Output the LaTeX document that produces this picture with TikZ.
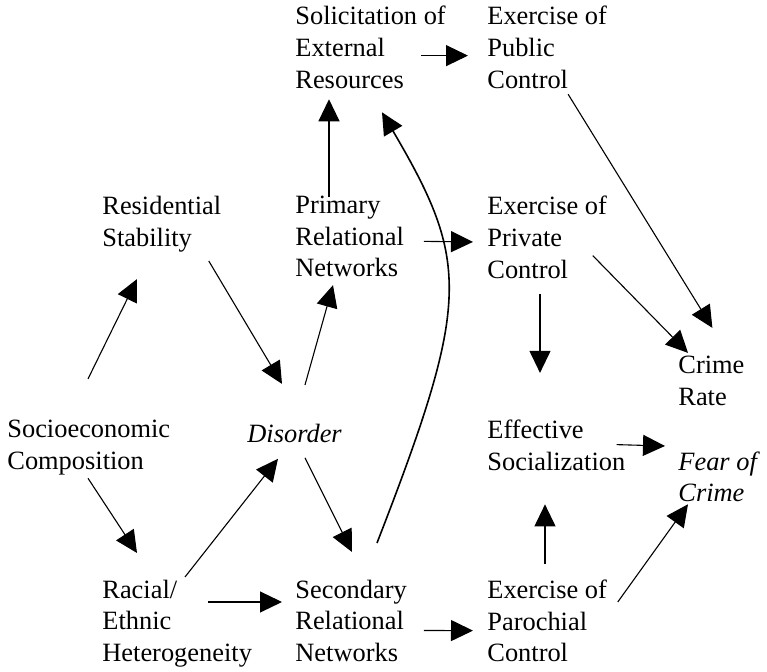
\documentclass[tikz,border=0pt]{standalone}
\usepackage{fontspec}
\setmainfont{Liberation Serif}
\usetikzlibrary{arrows.meta,calc}
\tikzset{
  factor/.style  = {anchor=north west, inner sep=0pt, align=left,
                    font=\fontsize{13.2}{15.8}\selectfont,
                    execute at begin node=\strut, execute at end node=\strut},
  effect/.style  = {-{Triangle[length=11pt,width=10.5pt]}, line width=0.55pt},
  effectc/.style = {-{Triangle[length=11pt,width=10.5pt]}, line width=0.8pt},
}
\begin{document}
\begin{tikzpicture}[x=0.5pt, y=-0.5pt]
  \useasboundingbox (0,0) rectangle (767,672);
  \node[factor] (sol)   at (295,5.9)   {Solicitation of\\External\\Resources};
  \node[factor] (pub)   at (487,5.9)   {Exercise of\\Public\\Control};
  \node[factor] (res)   at (102,195.9) {Residential\\Stability};
  \node[factor] (pri)   at (295,195.9) {Primary\\Relational\\Networks};
  \node[factor] (prv)   at (487,195.9) {Exercise of\\Private\\Control};
  \node[factor] (crime) at (678,355.9) {Crime\\Rate};
  \node[factor] (soc)   at (7,419.9)   {Socioeconomic\\Composition};
  \node[factor] (dis)   at (247,419.9) {\textit{Disorder}};
  \node[factor] (eff)   at (487,419.9) {Effective\\Socialization};
  \node[factor] (fear)  at (678,451.4) {\textit{Fear of}\\\textit{Crime}};
  \node[factor] (rac)   at (102,579.6) {Racial/\\Ethnic\\Heterogeneity};
  \node[factor] (sec)   at (295,579.6) {Secondary\\Relational\\Networks};
  \node[factor] (par)   at (487,579.6) {Exercise of\\Parochial\\Control};
  % top row
  \draw[effect] ($(sol.east)+(-25,3.7)$) -- ($(pub.west)+(-19,3.7)$);
  \draw[effect] ($(pub.south)+(21,-3.7)$) -- ($(crime.north)+(1,-28)$);
  \draw[effect] ($(pri.north west)+(34,1)$) -- ($(sol.south west)+(34,1.3)$);
  % middle
  \draw[effect] ($(pri.east)+(19.5,0)$) -- ($(prv.west)+(-14,0)$);
  \draw[effect] ($(prv.east)+(-14.5,13.7)$) -- ($(crime.north west)+(10,-3)$);
  \draw[effect] ($(prv.south west)+(53,6.3)$) -- ($(eff.north west)+(53,-47)$);
  \draw[effect] ($(res.south east)+(-12.8,4.9)$) -- ($(dis.north west)+(35,-36)$);
  \draw[effect] ($(dis.north west)+(58,-35)$) -- ($(pri.south west)+(38,-1.7)$);
  \draw[effect] ($(soc.north west)+(81,-41)$) -- ($(res.south west)+(35,23)$);
  \draw[effect] ($(soc.south west)+(81,-1)$) -- ($(rac.north west)+(35,-26.6)$);
  \draw[effect] ($(rac.north west)+(83,-2.6)$) -- ($(dis.south west)+(31,6.5)$);
  \draw[effect] ($(dis.south west)+(58,5.5)$) -- ($(sec.north west)+(57,-27.6)$);
  \draw[effect] ($(eff.east)+(-9,-5.5)$) -- ($(fear.north west)+(-13,-5.4)$);
  % bottom row
  \draw[effect] ($(rac.north west)+(106,22.4)$) -- ($(sec.north west)+(-13,22.4)$);
  \draw[effect] ($(sec.east)+(16.6,5)$) -- ($(par.west)+(-14,5)$);
  \draw[effect] ($(par.north west)+(58,-15.6)$) -- ($(eff.south west)+(58,24)$);
  \draw[effect] ($(par.north east)+(10.5,22.4)$) -- ($(fear.south west)+(10,-7.6)$);
  \draw[effectc] ($(sec.north west)+(82,-36.6)$) .. controls +(94,-242) and +(88,150) .. ($(sol.south west)+(87,14.3)$);
\end{tikzpicture}
\end{document}
